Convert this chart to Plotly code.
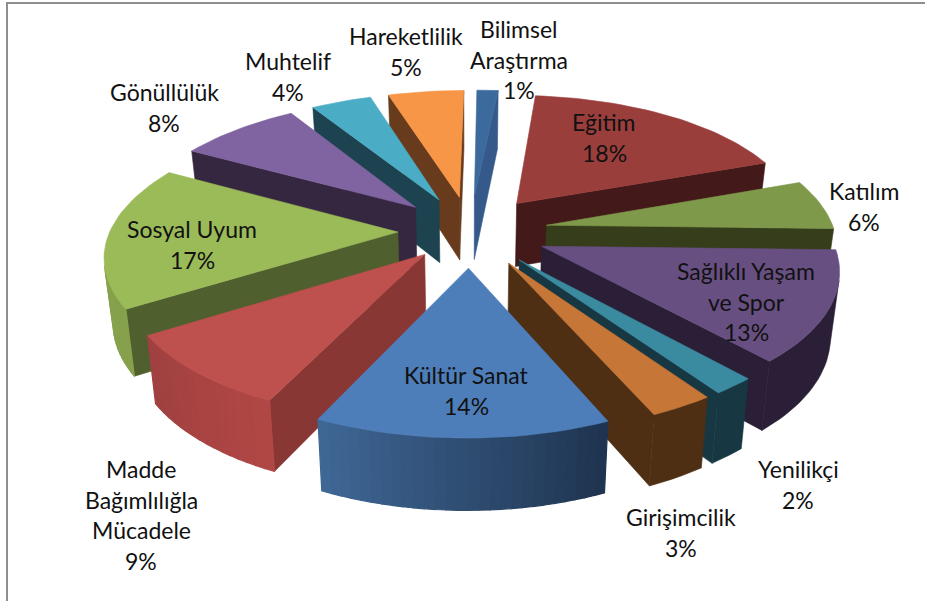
import numpy as np
import plotly.graph_objects as go

# ---- data ----
categories = ["Bilimsel\nAraştırma", "Eğitim", "Katılım", "Sağlıklı Yaşam\nve Spor", "Yenilikçi",
              "Girişimcilik", "Kültür Sanat", "Madde\nBağımlılığla\nMücadele", "Sosyal Uyum",
              "Gönüllülük", "Muhtelif", "Hareketlilik"]
values = [1.4, 18, 6, 13, 2, 3, 13.6, 9, 17, 8, 4, 5]

# ---- styles ----
top_colors = ["#3D6A9D", "#9A3E3C", "#7D9949", "#684F82", "#3A8AA0", "#C67636",
              "#4E7EBA", "#BE504D", "#9BBB59", "#8063A1", "#4BACC6", "#F79646"]
side_colors = ["#34598A", "#431919", "#353D1B", "#2A1F36", "#173843", "#4F2F14",
               "#1F3450", "#893735", "#4F5F2D", "#352740", "#1D4350", "#673B1C"]
arc_from = ["#34598A", "#431919", "#353D1B", "#2A1F36", "#173843", "#4F2F14",
            "#1F3450", "#B04745", "#86A04C", "#352740", "#1D4350", "#673B1C"]
arc_to = ["#34598A", "#431919", "#353D1B", "#2A1F36", "#173843", "#4F2F14",
          "#3F6795", "#A04040", "#8AA550", "#352740", "#1D4350", "#673B1C"]
explode = [0.27, 0.27, 0.27, 0.27, 0.27, 0.27, 0.27, 0.23, 0.25, 0.27, 0.27, 0.27]
label_pos = [(519, 29), (604, 122), (864, 191), (746, 271), (798, 469), (681, 517),
             (466, 375), (141, 469), (192, 229), (164, 92), (288, 61), (406, 36)]
LINE_H = 30.7
FONT = dict(family="Lato, Carlito, sans-serif", size=23, color="#111111")

# ---- projection ----
CX, CY = 470, 231
R, K, PERSP = 288, 132, 0.15
BOT_SX, BOT_SY, BOT_H = 0.975, 1.04, 64


def top_pt(X, Y):
    p = 1 / (1 + PERSP * Y)
    shift = 4 * Y if Y > 0 else 2 * Y
    shift = np.clip(shift, -2, 4)
    return CX + shift + R * X * p, CY - K * Y * p


def bot_pt(x, y):
    return CX + BOT_SX * (x - CX), CY + BOT_H + BOT_SY * (y - CY)


def mix(c0, c1, t):
    a = [int(c0[i:i + 2], 16) for i in (1, 3, 5)]
    b = [int(c1[i:i + 2], 16) for i in (1, 3, 5)]
    return "rgb(%d,%d,%d)" % tuple(round(u + (v - u) * t) for u, v in zip(a, b))


def poly(pts, color, lw=0.6):
    xs = [q[0] for q in pts] + [pts[0][0]]
    ys = [q[1] for q in pts] + [pts[0][1]]
    return go.Scatter(x=xs, y=ys, mode="lines", fill="toself", fillcolor=color,
                      line=dict(color=color, width=lw), hoverinfo="skip", showlegend=False)


def area(pts):
    return sum(pts[i][0] * pts[(i + 1) % len(pts)][1] - pts[(i + 1) % len(pts)][0] * pts[i][1]
               for i in range(len(pts)))


edges = np.cumsum([0] + values) / sum(values) * 2 * np.pi
slices = []
for i in range(len(values)):
    t0, t1 = edges[i], edges[i + 1]
    mid = (t0 + t1) / 2
    ax, ay = explode[i] * np.sin(mid), explode[i] * np.cos(mid)
    ts = np.linspace(t0, t1, max(6, int((t1 - t0) / 0.03)))
    apex = top_pt(ax, ay)
    arc = [top_pt(ax + np.sin(t), ay + np.cos(t)) for t in ts]
    slices.append((ay + 0.6 * np.cos(mid), i, apex, arc))

traces = []
for _, i, apex, arc in sorted(slices, key=lambda s: -s[0]):
    # straight side walls
    for a, b in ((apex, arc[0]), (arc[-1], apex)):
        q = [a, b, bot_pt(*b), bot_pt(*a)]
        if area(q) < 0:
            traces.append(poly(q, side_colors[i]))
    # outer curved wall: one piece if flat, shaded strips if it has a gradient
    n = len(arc) - 1
    if arc_from[i] == arc_to[i]:
        front = [j for j in range(n)
                 if area([arc[j], arc[j + 1], bot_pt(*arc[j + 1]), bot_pt(*arc[j])]) < 0]
        if front:
            upper = arc[front[0]:front[-1] + 2]
            traces.append(poly(upper + [bot_pt(*q) for q in reversed(upper)], arc_from[i]))
    else:
        for j in range(n):
            a, b = arc[j], arc[j + 1]
            q = [a, b, bot_pt(*b), bot_pt(*a)]
            if area(q) < 0:
                traces.append(poly(q, mix(arc_from[i], arc_to[i], j / max(n - 1, 1)), lw=1.2))
    traces.append(poly([apex] + arc, top_colors[i]))

fig = go.Figure(traces)

for name, v, (lx, ly) in zip(categories, values, label_pos):
    lines = name.split("\n") + [f"{round(v)}%"]
    for n, text in enumerate(lines):
        fig.add_annotation(x=lx, y=ly + n * LINE_H, text=text, showarrow=False, font=FONT,
                           xanchor="center", yanchor="middle")

GREY = "#8E8E8E"
fig.update_layout(
    width=925, height=601, margin=dict(l=0, r=0, t=0, b=0),
    paper_bgcolor="white", plot_bgcolor="white", showlegend=False,
    xaxis=dict(range=[0, 925], visible=False, fixedrange=True),
    yaxis=dict(range=[601, 0], visible=False, fixedrange=True),
    shapes=[
        dict(type="rect", xref="x", yref="y", x0=6, x1=8, y0=2, y1=601, fillcolor=GREY, line_width=0, layer="below"),
        dict(type="rect", xref="x", yref="y", x0=6, x1=925, y0=2, y1=4, fillcolor=GREY, line_width=0, layer="below"),
    ],
)
fig.write_html("out.html", config=dict(displayModeBar=False),
               post_script="document.body.style.margin='0';")
